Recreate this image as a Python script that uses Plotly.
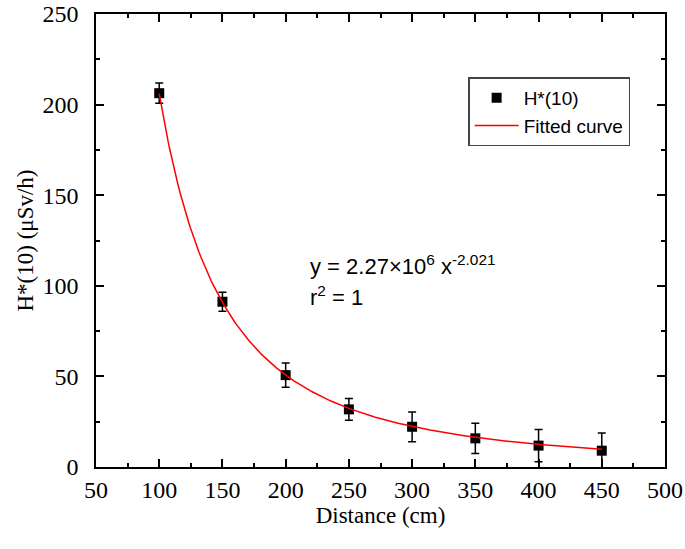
import numpy as np
import plotly.graph_objects as go

distance = [100, 150, 200, 250, 300, 350, 400, 450]
dose = [206.3, 91.2, 50.7, 31.8, 22.2, 15.8, 11.8, 9.0]
dose_err = [5.6, 5.2, 6.7, 6.0, 8.2, 8.3, 8.9, 9.8]

fit_a = 2.27e6
fit_b = -2.021

xf = np.linspace(100, 450, 300)
yf = fit_a * xf ** fit_b

serif = "Liberation Serif, Times New Roman, serif"
sans = "Liberation Sans, Arial, sans-serif"

fig = go.Figure()
fig.add_trace(go.Scatter(
    x=distance, y=dose, mode="markers", name="H*(10)",
    marker=dict(symbol="square", size=10, color="black"),
    error_y=dict(type="data", array=dose_err, visible=True, color="black",
                 thickness=1.5, width=4),
))
fig.add_trace(go.Scatter(
    x=xf, y=yf, mode="lines", name="Fitted curve",
    line=dict(color="red", width=1.5),
))

axis_common = dict(
    showline=True, linecolor="black", linewidth=1.5, mirror="ticks",
    ticks="inside", ticklen=8, tickwidth=1.5, tickcolor="black",
    showgrid=False, zeroline=False, automargin=False,
    ticklabeloverflow="allow",
    tickfont=dict(family=serif, size=24, color="black"),
)
fig.update_xaxes(range=[50, 500], tick0=50, dtick=50, ticklabelstandoff=0,
                 minor=dict(ticks="inside", ticklen=4, dtick=25, tickcolor="black", tickwidth=1.5),
                 title=dict(text="Distance (cm)", font=dict(family=serif, size=23, color="black"), standoff=2),
                 **axis_common)
fig.update_yaxes(range=[0, 250], tick0=0, dtick=50, ticklabelstandoff=11,
                 minor=dict(ticks="inside", ticklen=4, dtick=25, tickcolor="black", tickwidth=1.5),
                 title=dict(text="H*(10) (μSv/h)", font=dict(family=serif, size=23, color="black"), standoff=2),
                 **axis_common)

fig.add_annotation(x=0.373, y=0.446, xref="paper", yref="paper", xanchor="left", yanchor="middle",
                   text="y = 2.27×10<sup>6</sup> x<sup>-2.021</sup>", showarrow=False,
                   font=dict(family=sans, size=22, color="black"))
fig.add_annotation(x=0.373, y=0.378, xref="paper", yref="paper", xanchor="left", yanchor="middle",
                   text="r<sup>2</sup> = 1", showarrow=False,
                   font=dict(family=sans, size=22, color="black"))

fig.update_layout(
    width=685, height=549,
    margin=dict(l=96, r=20, t=14, b=82),
    paper_bgcolor="white", plot_bgcolor="white",
    legend=dict(x=0.654, y=0.86, xanchor="left", yanchor="top",
                bordercolor="#444", borderwidth=1.5, bgcolor="white",
                font=dict(family=sans, size=19, color="black"),
                tracegroupgap=0, itemwidth=44),
    showlegend=True,
)

fig.write_html("out.html", config={"displayModeBar": False},
               post_script="document.body.style.margin='0';")
